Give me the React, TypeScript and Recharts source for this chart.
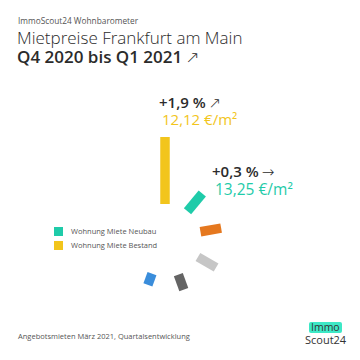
import { RadialBarChart, RadialBar, PolarAngleAxis, PolarRadiusAxis, Cell } from 'recharts'

// nine 40° slots around the centre, only six carry a stick
const SLOTS = ['s1', 's2', 's3', 's4', 's5', 's6', 's7', 's8', 's9']
// [inner, outer] radius of each stick, px on the radius axis
const RANGES: ([number, number] | null)[] = [
  [34, 101], [35, 58], [36, 57], [38, 59], [39, 55], [38, 50], null, null, null,
]
const COLORS = ['#F2C51C', '#1FCBA9', '#E5781F', '#C6C6C6', '#646464', '#3A8DDB', '#fff', '#fff', '#fff']

const LEGEND = [
  { label: 'Wohnung Miete Neubau', color: '#1FCBA9' },
  { label: 'Wohnung Miete Bestand', color: '#F2C51C' },
]

const data = SLOTS.map((s, i) => ({ slot: s, len: RANGES[i] }))

const FONT = '"Open Sans", sans-serif'
const DARK = '#2b2b2b'

function Stick(props: any) {
  const { cx, cy, innerRadius, outerRadius, startAngle, endAngle, fill } = props
  if (outerRadius == null || !(outerRadius > innerRadius)) return null
  const mid = ((startAngle + endAngle) / 2) * Math.PI / 180
  const w = 9.5
  const ux = Math.cos(mid), uy = -Math.sin(mid)
  const px = -uy * w / 2, py = ux * w / 2
  const ax = cx + ux * innerRadius, ay = cy + uy * innerRadius
  const bx = cx + ux * outerRadius, by = cy + uy * outerRadius
  const pts = [
    [ax + px, ay + py], [bx + px, by + py], [bx - px, by - py], [ax - px, ay - py],
  ].map(p => p.join(',')).join(' ')
  return <polygon points={pts} fill={fill} />
}

const abs = (x: number, y: number, lh: number): React.CSSProperties => ({
  position: 'absolute', left: x, top: y, whiteSpace: 'nowrap', lineHeight: `${lh}px`, height: lh,
})
const arrow: React.CSSProperties = {
  fontFamily: '"DejaVu Sans", sans-serif', fontWeight: 300, fontSize: 15, marginLeft: 3, lineHeight: '10px',
}

export default function App() {
  return (
    <div style={{ position: 'absolute', left: 0, top: 0, width: 360, height: 360, background: '#fff', fontFamily: FONT, overflow: 'hidden' }}>
      <RadialBarChart
        width={360} height={360} data={data}
        cx={165} cy={238} innerRadius={0} outerRadius={110}
        startAngle={70} endAngle={-290}
        layout="centric"
        style={{ position: 'absolute', left: 0, top: 0 }}
      >
        <PolarAngleAxis type="category" dataKey="slot" tick={false} axisLine={false} tickLine={false} />
        <PolarRadiusAxis type="number" domain={[0, 110]} tick={false} axisLine={false} />
        <RadialBar dataKey="len" isAnimationActive={false} shape={Stick} background={false}>
          {data.map((d, i) => <Cell key={d.slot} fill={COLORS[i]} />)}
        </RadialBar>
      </RadialBarChart>

      {/* heading */}
      <div style={{ ...abs(18, 16, 10), fontSize: 8.3, color: '#555' }}>ImmoScout24 Wohnbarometer</div>
      <div style={{ ...abs(17, 29, 17), fontSize: 17, color: DARK, fontWeight: 300 }}>Mietpreise Frankfurt am Main</div>
      <div style={{ ...abs(17, 48, 18), fontSize: 17, color: DARK, fontWeight: 600 }}>
        Q4 2020 bis Q1 2021<span style={{ ...arrow, fontSize: 17 }}>↗</span>
      </div>

      {/* annotations */}
      <div style={{ ...abs(159, 94, 16), fontSize: 15, color: DARK, fontWeight: 600 }}>
        +1,9 %<span style={arrow}>↗</span>
      </div>
      <div style={{ ...abs(162, 111, 16), fontSize: 15, color: '#F2C51C', fontWeight: 500 }}>12,12 €/m²</div>
      <div style={{ ...abs(212, 163, 16), fontSize: 15, color: DARK, fontWeight: 600 }}>
        +0,3 %<span style={arrow}>→</span>
      </div>
      <div style={{ ...abs(215, 181, 16), fontSize: 15.5, color: '#1FCBA9', fontWeight: 500 }}>13,25 €/m²</div>

      {/* legend */}
      {LEGEND.map((l, i) => (
        <div key={l.label} style={{ ...abs(54, 227 + i * 14, 9), display: 'flex', alignItems: 'center', gap: 8 }}>
          <span style={{ width: 9, height: 9, background: l.color, display: 'inline-block' }} />
          <span style={{ fontSize: 7.5, color: '#555' }}>{l.label}</span>
        </div>
      ))}

      {/* footer */}
      <div style={{ ...abs(18, 331, 10), fontSize: 7.5, color: '#555' }}>Angebotsmieten März 2021, Quartalsentwicklung</div>
      <div style={{ ...abs(309, 322, 11), fontSize: 10.5, color: '#333', padding: '0 2px', background: '#3DE8C6', borderRadius: 2 }}>Immo</div>
      <div style={{ ...abs(305, 334, 12), fontSize: 11, color: '#333' }}>Scout24</div>
    </div>
  )
}
